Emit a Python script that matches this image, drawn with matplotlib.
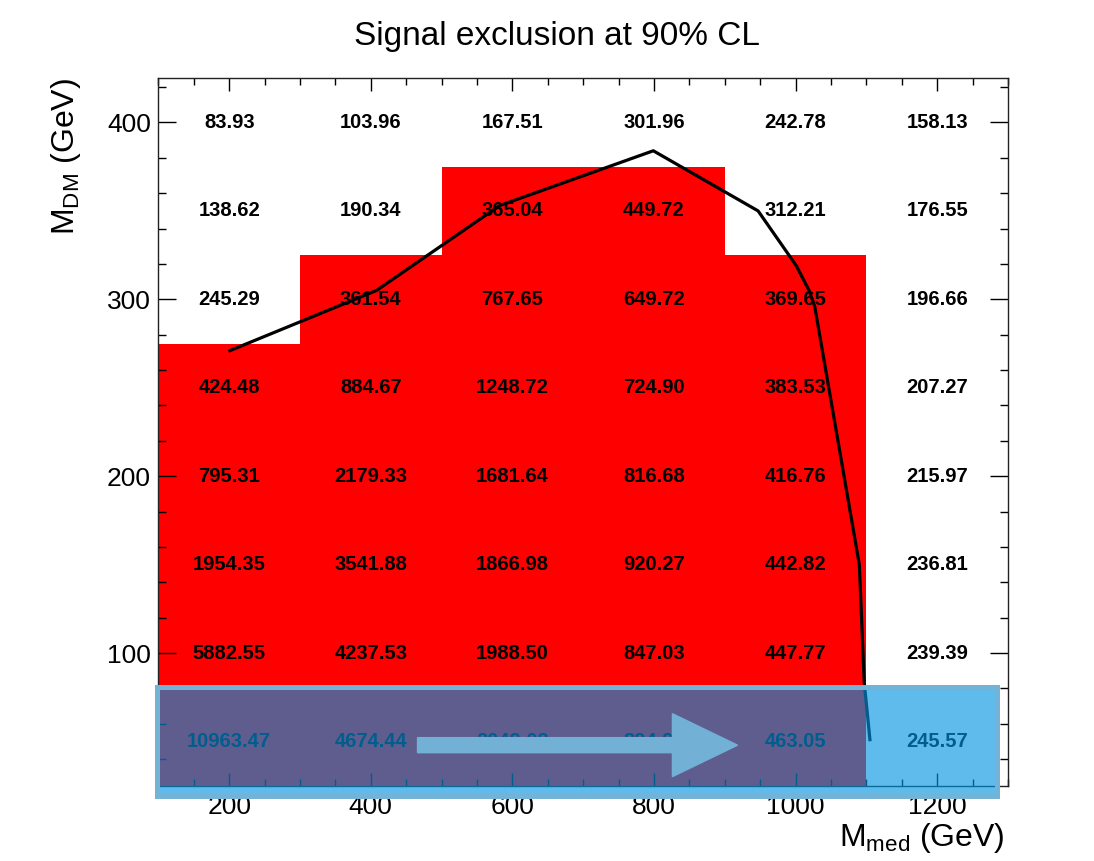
import numpy as np
import matplotlib
matplotlib.use("Agg")
import matplotlib.pyplot as plt
import matplotlib.patches as mpatches
from matplotlib.colors import ListedColormap, BoundaryNorm
from matplotlib.ticker import MultipleLocator

plt.rcParams['font.family'] = ['Liberation Sans', 'DejaVu Sans']

# bin centres
m_med = [200, 400, 600, 800, 1000, 1200]
m_dm = [50, 100, 150, 200, 250, 300, 350, 400]

# cell values, one list per M_DM row (bottom to top)
row_50 = [10963.47, 4674.44, 2049.03, 894.93, 463.05, 245.57]
row_100 = [5882.55, 4237.53, 1988.50, 847.03, 447.77, 239.39]
row_150 = [1954.35, 3541.88, 1866.98, 920.27, 442.82, 236.81]
row_200 = [795.31, 2179.33, 1681.64, 816.68, 416.76, 215.97]
row_250 = [424.48, 884.67, 1248.72, 724.90, 383.53, 207.27]
row_300 = [245.29, 361.54, 767.65, 649.72, 369.65, 196.66]
row_350 = [138.62, 190.34, 365.04, 449.72, 312.21, 176.55]
row_400 = [83.93, 103.96, 167.51, 301.96, 242.78, 158.13]

excl_level = 340  # cells above this are excluded (red)

# 90% CL contour
cont_x = [201, 408, 582, 799, 947, 1001, 1019, 1027, 1090, 1097, 1105]
cont_y = [271, 305, 353, 384, 350, 319, 305, 296, 150, 83, 51]

valores = np.array([row_50, row_100, row_150, row_200, row_250, row_300, row_350, row_400])
x_edges = np.arange(100, 1301, 200)
y_edges = np.arange(25, 426, 50)

fig = plt.figure(figsize=(10.94, 8.61), dpi=100)
ax = fig.add_axes([0.1448, 0.0875, 0.7766, 0.8216])

cmap = ListedColormap(["white", "red"])
norm = BoundaryNorm([0, excl_level, 1e6], 2)
ax.pcolormesh(x_edges, y_edges, valores, cmap=cmap, norm=norm, zorder=1)

for j in range(len(m_dm)):
	for i in range(len(m_med)):
		ax.text(m_med[i], m_dm[j], "%.2f" % valores[j][i], ha="center", va="center",
				fontsize=14.5, fontweight="bold", color="black", zorder=3)

ax.plot(cont_x, cont_y, color="black", linewidth=2.3, zorder=4)

ax.set_xlim(100, 1300)
ax.set_ylim(25, 425)
ax.xaxis.set_major_locator(MultipleLocator(200))
ax.xaxis.set_minor_locator(MultipleLocator(50))
ax.yaxis.set_major_locator(MultipleLocator(100))
ax.yaxis.set_minor_locator(MultipleLocator(20))
ax.tick_params(axis="both", which="both", direction="in", top=True, right=True, width=1.0, labelsize=19)
ax.tick_params(axis="x", which="major", length=9.4, pad=7)
ax.tick_params(axis="x", which="minor", length=5)
ax.tick_params(axis="y", which="major", length=12.7, pad=5.5)
ax.tick_params(axis="y", which="minor", length=5.8)
for s in ax.spines.values():
	s.set_linewidth(1.0)
	s.set_color("#222222")

# highlighted bottom row + arrow
caja = mpatches.Rectangle((97.7, 19.0), 1284.3 - 97.7, 80.6 - 19.0, facecolor=(0, 148/255., 226/255., 0.63),
						  edgecolor="#74B2D6", linewidth=3.6, clip_on=False, zorder=10)
ax.add_patch(caja)
flecha = mpatches.FancyArrow(466, 47.9, 452, 0, width=8.5, head_width=35.6, head_length=92,
							 length_includes_head=True, color="#72B0D6", zorder=11, clip_on=False)
ax.add_patch(flecha)

fig.text(557/1094., 1 - 45/861., "Signal exclusion at 90% CL", ha="center", va="baseline", fontsize=24)
fig.text(1005/1094., 1 - 846/861., r"$\mathregular{M_{med}}$ (GeV)", ha="right", va="baseline", fontsize=23)
fig.text(66/1094., 1 - 78/861., r"$\mathregular{M_{DM}}$ (GeV)", ha="center", va="top", rotation=90, fontsize=23)

plt.savefig("out.png", dpi=100)
